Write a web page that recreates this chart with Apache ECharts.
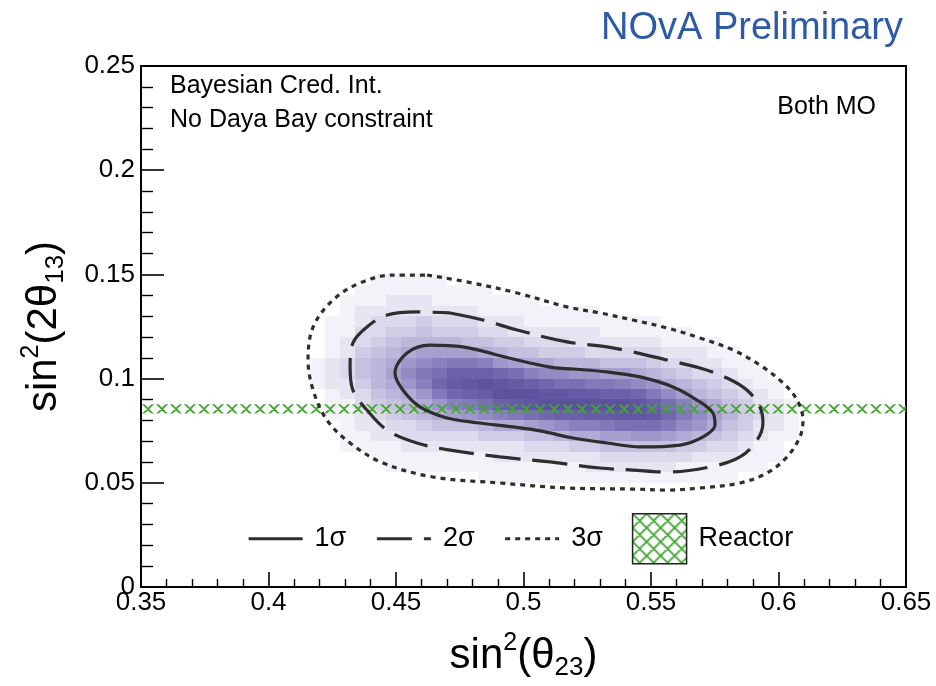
<!DOCTYPE html>
<html>
<head>
<meta charset="utf-8">
<title>NOvA sin²(2θ13) vs sin²(θ23)</title>
<script src="https://cdn.jsdelivr.net/npm/echarts@6/dist/echarts.min.js"></script>
<style>
  html, body { margin: 0; padding: 0; background: #fff; }
  #chart { width: 936px; height: 686px; }
</style>
</head>
<body>
<div id="chart"></div>
<script>
// ---- axes ----
const X_RANGE = [0.35, 0.65];
const Y_RANGE = [0, 0.25];
const X_TICK_STEP = 0.05;
const Y_TICK_STEP = 0.05;

// ---- posterior density histogram (50 x 50 bins) ----
const BIN_X = 0.006;          // bin width in sin²θ23
const BIN_Y = 0.005;          // bin height in sin²2θ13
const FIRST_COL_BIN = 8;      // x-bin index of the first character in each row
const TOP_ROW_BIN = 31;       // y-bin index of the first row
const DENSITY_MAX = 18;
// relative density per bin, base-36 digits (0 .. i = 0 .. 18), rows from top to bottom
const densityRows = [
  '000000000000000000000000000000000000000',
  '000000000000000000000000000000000000000',
  '000000011111000000000000000000000000000',
  '000000111111111000000000000000000000000',
  '000001112221111111000000000000000000000',
  '000001222222221111111100000000000000000',
  '000011233343332221111111110000000000000',
  '000011334454443322222211111100000000000',
  '000012345666655443332222221111000000000',
  '000012456788887655444333332221100000000',
  '000123567 9abccb987766655543322110000000'.replace(' ', ''),
  '000123568acdfffedbaa9988765433211000000',
  '0001224679beghihgfeddccba97654321100000',
  '00001235679cefgiiihhggffeca865432100000',
  '000011345679bcdfghiiiiiihfdb97542210000',
  '00001123456789abcdeffgghhgeca8643210000',
  '0000012233455567789abbcdddca97542210000',
  '000001122333334445567788998765432110000',
  '000001111222222223334455555443321100000',
  '000000011111111222222233333322211100000',
  '000000001111111111111222222111111000000',
  '000000000000001111111111111111100000000',
  '000000000000000000000000000000000000000',
  '000000000000000000000000000000000000000'
];
// colour palette of the density scale, low to high
const densityPalette = ['#ffffff', '#d5d1e8', '#aea8d3', '#8b83bf', '#6e64ad', '#5d529e'];

// ---- credible-interval contours (sin²θ23, sin²2θ13) ----
const contour1Sigma = [
  [0.4896,0.1113],[0.5025,0.1075],[0.5116,0.1053],[0.5194,0.1046],[0.5327,0.1032],
  [0.5457,0.1008],[0.5586,0.0960],[0.5680,0.0897],[0.5743,0.0835],[0.5751,0.0777],
  [0.5704,0.0720],[0.5614,0.0681],[0.5457,0.0672],[0.5327,0.0691],[0.5194,0.0715],
  [0.5065,0.0749],[0.4959,0.0768],[0.4829,0.0787],[0.4700,0.0811],[0.4594,0.0864],
  [0.4527,0.0945],[0.4496,0.1027],[0.4543,0.1123],[0.4633,0.1161],[0.4763,0.1152],
  [0.4896,0.1113]
];
const contour2Sigma = [
  [0.4712,0.1315],[0.4841,0.1281],[0.4975,0.1233],[0.5171,0.1176],[0.5327,0.1152],
  [0.5429,0.1128],[0.5563,0.1089],[0.5692,0.1051],[0.5798,0.1003],[0.5876,0.0945],
  [0.5927,0.0864],[0.5939,0.0787],[0.5916,0.0705],[0.5849,0.0624],[0.5731,0.0576],
  [0.5563,0.0552],[0.5429,0.0561],[0.5300,0.0571],[0.5104,0.0600],[0.4908,0.0624],
  [0.4712,0.0657],[0.4582,0.0691],[0.4465,0.0753],[0.4386,0.0849],[0.4331,0.0945],
  [0.4320,0.1056],[0.4331,0.1171],[0.4386,0.1248],[0.4465,0.1305],[0.4582,0.1320],
  [0.4712,0.1315]
];
const contour3Sigma = [
  [0.4622,0.1497],[0.4778,0.1464],[0.4975,0.1411],[0.5171,0.1344],[0.5300,0.1315],
  [0.5429,0.1281],[0.5563,0.1243],[0.5692,0.1195],[0.5822,0.1137],[0.5927,0.1065],
  [0.6018,0.0979],[0.6073,0.0897],[0.6096,0.0801],[0.6084,0.0720],[0.6033,0.0624],
  [0.5955,0.0547],[0.5849,0.0499],[0.5692,0.0475],[0.5563,0.0465],[0.5429,0.0470],
  [0.5171,0.0475],[0.4908,0.0499],[0.4645,0.0528],[0.4449,0.0595],[0.4320,0.0691],
  [0.4229,0.0801],[0.4175,0.0945],[0.4155,0.1089],[0.4175,0.1248],[0.4253,0.1377],
  [0.4359,0.1459],[0.4488,0.1497],[0.4622,0.1497]
];

// ---- reactor constraint band on sin²2θ13 ----
const reactorBand = [0.0833, 0.0877];

// ---- legend / labels ----
const seriesNames = ['1σ', '2σ', '3σ', 'Reactor'];

// ------------------------------------------------------------------
const FONT = '"Liberation Sans", Arial, Helvetica, sans-serif';
const LINE_COLOR = '#2e2e2e';
const HATCH_COLOR = '#44a534';
const NO_FILL = 'rgba(0,0,0,0)';

// diagonal cross-hatch tile, seamless when repeated
function makeHatch(size, color, width) {
  const c = document.createElement('canvas');
  c.width = size; c.height = size;
  const g = c.getContext('2d');
  g.strokeStyle = color;
  g.lineWidth = width;
  g.beginPath();
  for (let k = -1; k <= 1; k++) {
    g.moveTo(k * size, 0); g.lineTo(k * size + size, size);
    g.moveTo(k * size + size, 0); g.lineTo(k * size, size);
  }
  g.stroke();
  return c;
}
const HATCH_SIZE = 14;
const hatchFill = { image: makeHatch(HATCH_SIZE, HATCH_COLOR, 1.9), repeat: 'repeat' };

// expand density rows into [xLow, yLow, value] cells
const heatCells = [];
densityRows.forEach((row, r) => {
  const yBin = TOP_ROW_BIN - r;
  for (let c = 0; c < row.length; c++) {
    const v = parseInt(row[c], 36);
    if (v > 0) {
      heatCells.push([X_RANGE[0] + (FIRST_COL_BIN + c) * BIN_X, Y_RANGE[0] + yBin * BIN_Y, v]);
    }
  }
});

const chart = echarts.init(document.getElementById('chart'), null, { renderer: 'canvas' });

function contourSeries(name, data, type) {
  return {
    name: name,
    type: 'line',
    data: data,
    smooth: 0.35,
    symbol: 'none',
    showSymbol: false,
    z: 5,
    lineStyle: { color: LINE_COLOR, width: 3.2, type: type },
    itemStyle: { color: NO_FILL, borderWidth: 0 },
    silent: true
  };
}

const richAxisName = {
  m: { fontSize: 42, fontFamily: FONT, color: '#000', lineHeight: 50 },
  sup: { fontSize: 25, fontFamily: FONT, color: '#000', lineHeight: 20, verticalAlign: 'top' },
  sub: { fontSize: 26, fontFamily: FONT, color: '#000', lineHeight: 10, verticalAlign: 'bottom' }
};

const lineLegendItem = (name) => ({ name: name, itemStyle: { color: NO_FILL, borderWidth: 0, opacity: 0 } });

const option = {
  animation: false,
  backgroundColor: '#ffffff',
  grid: {
    left: 141, right: 30, top: 66, bottom: 99,
    show: true, borderColor: '#000', borderWidth: 2, backgroundColor: 'transparent'
  },
  xAxis: {
    type: 'value',
    min: X_RANGE[0], max: X_RANGE[1], interval: X_TICK_STEP,
    axisLine: { show: true, onZero: false, lineStyle: { color: '#000', width: 2 } },
    axisTick: { show: true, inside: true, length: 15, lineStyle: { color: '#000', width: 1.6 } },
    minorTick: { show: true, splitNumber: 5, length: 8, lineStyle: { color: '#000', width: 1.4 } },
    splitLine: { show: false },
    axisLabel: { fontSize: 26, fontFamily: FONT, color: '#000', margin: 3, showMinLabel: true, showMaxLabel: true },
    name: '{m|sin}{sup|2}{m|(θ}{sub|23}{m|)}',
    nameLocation: 'middle',
    nameGap: 44,
    nameTextStyle: { rich: richAxisName }
  },
  yAxis: {
    type: 'value',
    min: Y_RANGE[0], max: Y_RANGE[1], interval: Y_TICK_STEP,
    axisLine: { show: true, onZero: false, lineStyle: { color: '#000', width: 2 } },
    axisTick: { show: true, inside: true, length: 23, lineStyle: { color: '#000', width: 1.6 } },
    minorTick: { show: true, splitNumber: 5, length: 12, lineStyle: { color: '#000', width: 1.4 } },
    splitLine: { show: false },
    axisLabel: { fontSize: 26, fontFamily: FONT, color: '#000', margin: 6, showMinLabel: true, showMaxLabel: true },
    name: '{m|sin}{sup|2}{m|(2θ}{sub|13}{m|)}',
    nameLocation: 'middle',
    nameRotate: 90,
    nameGap: 72,
    nameTextStyle: { rich: richAxisName }
  },
  visualMap: {
    type: 'continuous',
    show: false,
    seriesIndex: 0,
    dimension: 2,
    min: 0,
    max: DENSITY_MAX,
    inRange: { color: densityPalette }
  },
  legend: {
    left: 247, top: 513, padding: 0,
    itemWidth: 54, itemHeight: 50, itemGap: 29,
    selectedMode: false,
    lineStyle: { width: 3.2 },
    textStyle: { fontSize: 27, fontFamily: FONT, color: '#000', padding: [0, 0, 0, 7] },
    data: [
      lineLegendItem(seriesNames[0]),
      lineLegendItem(seriesNames[1]),
      lineLegendItem(seriesNames[2]),
      { name: seriesNames[3], icon: 'rect',
        itemStyle: { color: hatchFill, borderColor: '#222', borderWidth: 1.5 } }
    ]
  },
  graphic: [
    { type: 'text', x: 903, y: 29, silent: true,
      style: { text: 'NOvA Preliminary', font: '38px ' + FONT, fill: '#2d5aa6', align: 'right', verticalAlign: 'middle' } },
    { type: 'text', x: 170, y: 86, silent: true,
      style: { text: 'Bayesian Cred. Int.', font: '25px ' + FONT, fill: '#000', align: 'left', verticalAlign: 'middle' } },
    { type: 'text', x: 170, y: 120, silent: true,
      style: { text: 'No Daya Bay constraint', font: '25px ' + FONT, fill: '#000', align: 'left', verticalAlign: 'middle' } },
    { type: 'text', x: 876, y: 107, silent: true,
      style: { text: 'Both MO', font: '25px ' + FONT, fill: '#000', align: 'right', verticalAlign: 'middle' } }
  ],
  series: [
    {
      name: 'posterior',
      type: 'custom',
      coordinateSystem: 'cartesian2d',
      data: heatCells,
      encode: { x: 0, y: 1 },
      z: 1,
      silent: true,
      renderItem: function (params, api) {
        const x0 = api.value(0), y0 = api.value(1);
        const a = api.coord([x0, y0 + BIN_Y]);
        const b = api.coord([x0 + BIN_X, y0]);
        const left = Math.round(a[0]), top = Math.round(a[1]);
        const right = Math.round(b[0]), bottom = Math.round(b[1]);
        return {
          type: 'rect',
          shape: { x: left, y: top, width: right - left, height: bottom - top },
          style: { fill: api.visual('color'), stroke: null }
        };
      }
    },
    {
      name: seriesNames[3],
      type: 'custom',
      coordinateSystem: 'cartesian2d',
      data: [[X_RANGE[0], X_RANGE[1], reactorBand[0], reactorBand[1]]],
      encode: { x: [0, 1], y: [2, 3] },
      z: 3,
      silent: true,
      itemStyle: { color: hatchFill },
      renderItem: function (params, api) {
        const tl = api.coord([api.value(0), api.value(3)]);
        const br = api.coord([api.value(1), api.value(2)]);
        const mid = Math.round((tl[1] + br[1]) / 2);
        const originY = mid - HATCH_SIZE / 2;
        return {
          type: 'rect',
          x: tl[0], y: originY,
          shape: { x: 0, y: tl[1] - originY, width: br[0] - tl[0], height: br[1] - tl[1] },
          style: { fill: hatchFill, stroke: null }
        };
      }
    },
    contourSeries(seriesNames[0], contour1Sigma, 'solid'),
    contourSeries(seriesNames[1], contour2Sigma, [35, 12]),
    contourSeries(seriesNames[2], contour3Sigma, [5, 5])
  ]
};

chart.setOption(option);
</script>
</body>
</html>
